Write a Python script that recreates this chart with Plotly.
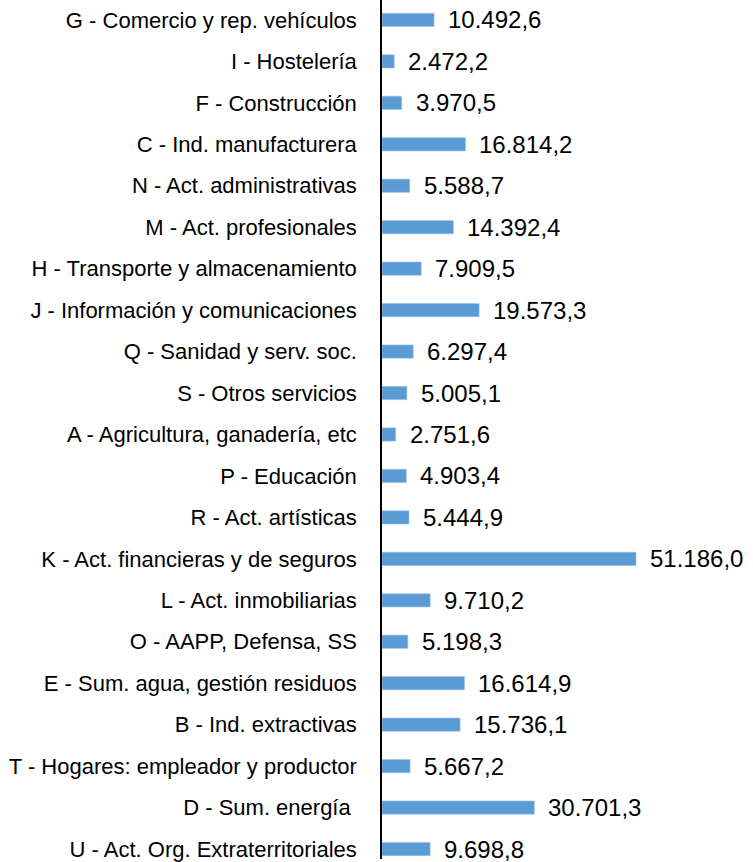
import plotly.graph_objects as go

categories = [
    "G - Comercio y rep. vehículos",
    "I - Hostelería",
    "F - Construcción",
    "C - Ind. manufacturera",
    "N - Act. administrativas",
    "M - Act. profesionales",
    "H - Transporte y almacenamiento",
    "J - Información y comunicaciones",
    "Q - Sanidad y serv. soc.",
    "S - Otros servicios",
    "A - Agricultura, ganadería, etc",
    "P - Educación",
    "R - Act. artísticas",
    "K - Act. financieras y de seguros",
    "L - Act. inmobiliarias",
    "O - AAPP, Defensa, SS",
    "E - Sum. agua, gestión residuos",
    "B - Ind. extractivas",
    "T - Hogares: empleador y productor",
    "D - Sum. energía ",
    "U - Act. Org. Extraterritoriales",
]
values = [10492.6, 2472.2, 3970.5, 16814.2, 5588.7, 14392.4, 7909.5, 19573.3,
          6297.4, 5005.1, 2751.6, 4903.4, 5444.9, 51186.0, 9710.2, 5198.3,
          16614.9, 15736.1, 5667.2, 30701.3, 9698.8]

def fmt(v):
    s = f"{v:,.1f}"
    return s.replace(",", "X").replace(".", ",").replace("X", ".")

cats_plot = categories[::-1]
vals_plot = values[::-1]

fig = go.Figure()
fig.add_trace(go.Bar(
    x=vals_plot, y=cats_plot, orientation="h",
    marker=dict(color="#5B9BD5", line=dict(color="#9DC3E6", width=0.6)),
    width=0.32, hoverinfo="skip",
))

for c, v in zip(cats_plot, vals_plot):
    fig.add_annotation(x=v, y=c, text=fmt(v), showarrow=False,
                       xanchor="left", yanchor="middle", xshift=12,
                       font=dict(family="Liberation Sans", size=24, color="#000000"))

fig.update_layout(
    width=753, height=862,
    margin=dict(l=382, r=0, t=0, b=0),
    plot_bgcolor="white", paper_bgcolor="white",
    showlegend=False,
    font=dict(family="Liberation Sans", size=22, color="#000000"),
)
fig.update_xaxes(range=[0, 74764], showgrid=False, zeroline=False,
                 showticklabels=False, showline=False, ticks="")
fig.update_yaxes(categoryorder="array", categoryarray=cats_plot,
                 range=[-0.24, 20.48], showgrid=False, zeroline=False,
                 showline=True, linecolor="#000000", linewidth=1.5,
                 ticks="", ticklabelstandoff=19,
                 tickfont=dict(family="Liberation Sans", size=22, color="#000000"))

fig.write_html("out.html", config={"displayModeBar": False},
               post_script="document.body.style.margin='0';")
